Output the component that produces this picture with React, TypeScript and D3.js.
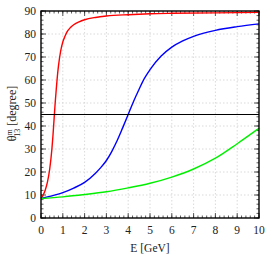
import * as d3 from 'd3';

const WIDTH = 274;
const HEIGHT = 257;
const MARGIN = { top: 11, right: 15, bottom: 39, left: 41 };

type Pt = { e: number; theta: number };

// energies (GeV) and mixing angle (degree)
const redE = [0, 0.1, 0.2, 0.3, 0.4, 0.5, 0.55, 0.6, 0.65, 0.7, 0.75, 0.8, 0.9, 1.0, 1.1, 1.2, 1.35, 1.5, 1.75, 2, 2.5, 3, 4, 5, 6, 8, 10];
const redTheta = [8.5, 10, 12.3, 15.8, 21.3, 30, 36, 43, 50, 56, 61.5, 66, 72.5, 76.5, 79, 81, 82.8, 84, 85.3, 86.2, 87.2, 87.8, 88.4, 88.8, 89, 89.2, 89.4];

const blueE = [0, 0.5, 1, 1.5, 2, 2.5, 2.75, 3, 3.25, 3.5, 3.75, 4, 4.25, 4.5, 4.75, 5, 5.5, 6, 6.5, 7, 8, 9, 10];
const blueTheta = [8.5, 9.6, 11, 13, 15.5, 19.5, 22, 25, 29, 33.8, 39.3, 45, 50.8, 56, 60.8, 64.5, 70.3, 74.3, 77, 79, 81.6, 83.2, 84.4];

const greenE = [0, 1, 2, 3, 4, 5, 6, 7, 8, 9, 10];
const greenTheta = [8.5, 9.2, 10.2, 11.4, 13.1, 15.1, 17.8, 21.3, 26, 32.3, 39];

const maximalTheta = 45;

const xTicks = [0, 1, 2, 3, 4, 5, 6, 7, 8, 9, 10];
const yTicks = [0, 10, 20, 30, 40, 50, 60, 70, 80, 90];

const zip = (es: number[], ts: number[]): Pt[] => es.map((e, i) => ({ e, theta: ts[i] }));

const series = [
  { color: '#ff0000', data: zip(redE, redTheta) },
  { color: '#0000ff', data: zip(blueE, blueTheta) },
  { color: '#00f000', data: zip(greenE, greenTheta) },
];

export default function App() {
  const boundsWidth = WIDTH - MARGIN.left - MARGIN.right;
  const boundsHeight = HEIGHT - MARGIN.top - MARGIN.bottom;

  const xScale = d3.scaleLinear().domain([0, 10]).range([0, boundsWidth]);
  const yScale = d3.scaleLinear().domain([0, 90]).range([boundsHeight, 0]);

  const line = d3
    .line<Pt>()
    .x((d) => xScale(d.e))
    .y((d) => yScale(d.theta))
    .curve(d3.curveMonotoneX);

  // minor ticks: every 0.2 GeV and every 2 degree
  const xMinor = d3.range(0, 10.001, 0.2);
  const yMinor = d3.range(0, 90.001, 2);

  const font = "'Liberation Serif', 'Times New Roman', 'DejaVu Serif', serif";
  const tickColor = '#333';

  return (
    <div style={{ position: 'absolute', left: 0, top: 0 }}>
      <svg width={WIDTH} height={HEIGHT} style={{ display: 'block', background: '#fff' }}>
        <g transform={`translate(${MARGIN.left},${MARGIN.top})`}>
          {/* grid */}
          {xTicks.slice(1, -1).map((t) => (
            <line key={'gx' + t} x1={xScale(t)} x2={xScale(t)} y1={0} y2={boundsHeight}
              stroke="#d0d0d0" strokeWidth={0.8} strokeDasharray="1.5,2" />
          ))}
          {yTicks.slice(1, -1).map((t) => (
            <line key={'gy' + t} x1={0} x2={boundsWidth} y1={yScale(t)} y2={yScale(t)}
              stroke="#d0d0d0" strokeWidth={0.8} strokeDasharray="1.5,2" />
          ))}

          {/* minor ticks */}
          {xMinor.map((t, i) => (
            <g key={'xm' + i} stroke={tickColor} strokeWidth={0.8}>
              <line x1={xScale(t)} x2={xScale(t)} y1={boundsHeight} y2={boundsHeight - 2.5} />
              <line x1={xScale(t)} x2={xScale(t)} y1={0} y2={2.5} />
            </g>
          ))}
          {yMinor.map((t, i) => (
            <g key={'ym' + i} stroke={tickColor} strokeWidth={0.8}>
              <line x1={0} x2={2.5} y1={yScale(t)} y2={yScale(t)} />
              <line x1={boundsWidth} x2={boundsWidth - 2.5} y1={yScale(t)} y2={yScale(t)} />
            </g>
          ))}
          {/* major ticks */}
          {xTicks.map((t) => (
            <g key={'xM' + t} stroke={tickColor} strokeWidth={0.8}>
              <line x1={xScale(t)} x2={xScale(t)} y1={boundsHeight} y2={boundsHeight - 5} />
              <line x1={xScale(t)} x2={xScale(t)} y1={0} y2={5} />
            </g>
          ))}
          {yTicks.map((t) => (
            <g key={'yM' + t} stroke={tickColor} strokeWidth={0.8}>
              <line x1={0} x2={5} y1={yScale(t)} y2={yScale(t)} />
              <line x1={boundsWidth} x2={boundsWidth - 5} y1={yScale(t)} y2={yScale(t)} />
            </g>
          ))}

          {/* curves */}
          {series.map((s) => (
            <path key={s.color} d={line(s.data) || ''} fill="none" stroke={s.color} strokeWidth={1.4} />
          ))}
          <line x1={0} x2={boundsWidth} y1={yScale(maximalTheta)} y2={yScale(maximalTheta)}
            stroke="#000" strokeWidth={1.2} />

          {/* frame */}
          <rect x={0} y={0} width={boundsWidth} height={boundsHeight} fill="none" stroke="#000" strokeWidth={1.4} />

          {/* tick labels */}
          {xTicks.map((t) => (
            <text key={'xl' + t} x={xScale(t)} y={boundsHeight + 16} textAnchor="middle"
              fontFamily={font} fontSize={11.5} fill="#222">{t}</text>
          ))}
          {yTicks.map((t) => (
            <text key={'yl' + t} x={-5} y={yScale(t) + 3.8} textAnchor="end"
              fontFamily={font} fontSize={11.5} fill="#222">{t}</text>
          ))}

          {/* axis titles */}
          <text x={boundsWidth / 2} y={boundsHeight + 34} textAnchor="middle"
            fontFamily={font} fontSize={11.5} fill="#222">E [GeV]</text>
          <text transform={`translate(${-25},${boundsHeight / 2 - 1}) rotate(-90)`} textAnchor="middle"
            fontFamily={font} fontSize={12} fill="#222">
            θ<tspan fontSize={8} dy={-4.5}>m</tspan>
            <tspan fontSize={8} dx={-7.5} dy={8}>13</tspan>
            <tspan dy={-3.5}>{'  [degree]'}</tspan>
          </text>
        </g>
      </svg>
    </div>
  );
}
